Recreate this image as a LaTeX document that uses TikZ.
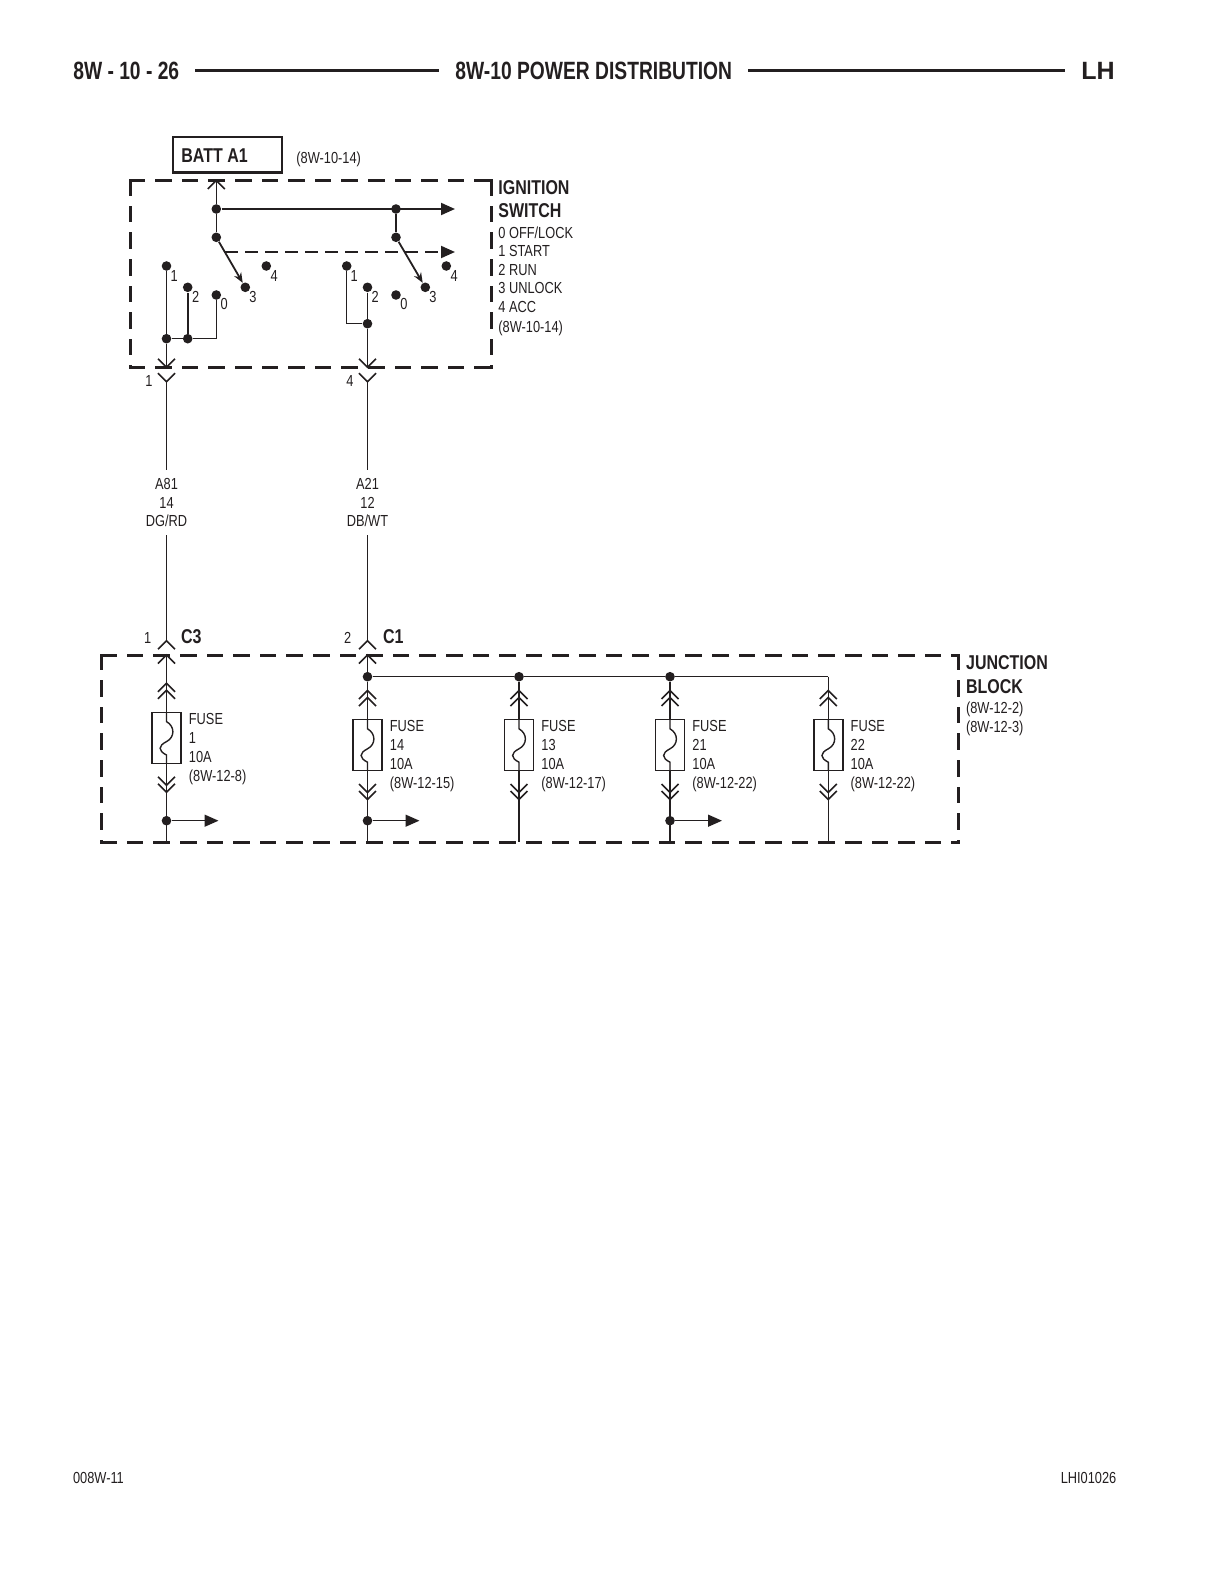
\documentclass[tikz,border=0pt]{standalone}
\usepackage{fontspec}
\setmainfont[FakeStretch=0.8]{Liberation Sans}
\newfontfamily\headfont[FakeStretch=0.77]{Liberation Sans}
\newfontfamily\sidefont{Liberation Sans}
\usetikzlibrary{arrows.meta}
\definecolor{inkc}{HTML}{231F20}
\tikzset{
    wire/.style={draw=inkc, line width=0.7pt},
    thickwire/.style={draw=inkc, line width=0.95pt},
    dashside/.style={draw=inkc, line width=1.5pt, line cap=rect, dash pattern=on 6.8pt off 6.5pt},
    areabox/.style={inner sep=0pt, outer sep=0pt, anchor=north west},
    pindot/.style={circle, fill=inkc, inner sep=0pt, minimum size=4.8pt},
    fusebox/.style={draw=inkc, line width=0.7pt, minimum width=14.5pt, minimum height=25.5pt, inner sep=0pt, outer sep=0pt},
    feed/.style={wire, -{Triangle[length=7pt,width=6pt]}},
    blade/.style={draw=inkc, line width=0.9pt, -{Stealth[length=5pt,width=4pt]}},
    smalltxt/.style={text=inkc, inner sep=0pt, anchor=west, font=\fontsize{8}{9.5}\selectfont, text height=5.7pt, text depth=0pt},
    boldtxt/.style={text=inkc, inner sep=0pt, anchor=west, font=\fontsize{10}{12}\bfseries\selectfont, text height=7.2pt, text depth=0pt},
    headtxt/.style={text=inkc, inner ysep=0pt, inner xsep=7.8pt, anchor=west, font=\headfont\fontsize{12.5}{15}\bfseries\selectfont, text height=9pt, text depth=0pt},
    chevup/.pic={\draw[draw=inkc, line width=0.8pt] (-8.5,8.5)--(0,0)--(8.5,8.5);},
    chevdown/.pic={\draw[draw=inkc, line width=0.8pt] (-8.5,-8.5)--(0,0)--(8.5,-8.5);},
}

\begin{document}
\begin{tikzpicture}[x=0.5pt, y=-0.5pt]
    \useasboundingbox (0,0) rectangle (1224,1584);
    % page head and foot
    \node[headtxt] (headl) at (57.3,70.5) {8W - 10 - 26};
    \node[headtxt, anchor=center] (headm) at (593.75,70.5) {8W-10 POWER DISTRIBUTION};
    \node[headtxt, anchor=east, font=\sidefont\fontsize{12.5}{15}\bfseries\selectfont] (headr) at (1130.6,70.5) {LH};
    \draw[draw=inkc, line width=1.1pt] (headl.east) -- (headm.west);
    \draw[draw=inkc, line width=1.1pt] (headm.east) -- (headr.west);
    \node[smalltxt] (footl) at (72.7,1477.3) {008W-11};
    \node[smalltxt, anchor=east] (footr) at (1116.7,1477.3) {LHI01026};

    % ignition switch
    \node[areabox, minimum width=180.5pt, minimum height=93.3pt] (ignbox) at (130,180.7) {};
    \draw[dashside] (ignbox.north west) -- (ignbox.north east);
    \draw[dashside] (ignbox.north east) -- (ignbox.south east);
    \draw[dashside] (ignbox.north west) -- (ignbox.south west);
    \draw[dashside] (ignbox.south west) -- (ignbox.south east);
    \node[draw=inkc, line width=1.3pt, minimum width=54.5pt, minimum height=17.8pt, inner sep=0pt] (batt) at (227.5,154.9) {};
    \node[boldtxt] (batttxt) at (181,155) {BATT A1};
    \node[smalltxt] (battref) at (296,158) {(8W-10-14)};
    \node[boldtxt] (ignone) at (498,187.3) {IGNITION};
    \node[boldtxt] (igntwo) at (498,210) {SWITCH};
    \foreach \n/\y/\txt in {a/232.7/{0 OFF/LOCK}, b/251/1 START, c/270/2 RUN, d/288/3 UNLOCK, e/306.7/4 ACC, f/326.7/{(8W-10-14)}}{
        \node[smalltxt] (ign\n) at (498,\y) {\txt};
    }
    \coordinate (battin) at (216.3,180.5);
    \node[pindot] (busa) at (216.3,209) {};
    \node[pindot] (busb) at (396,209) {};
    \node[pindot] (blda) at (216.3,237.3) {};
    \node[pindot] (bldb) at (396,237.3) {};
    \coordinate (busend) at (455,209);
    \coordinate (dashstart) at (225,252);
    \coordinate (dashend) at (455,252);
    \pic at (battin) {chevup};
    \draw[wire] (battin) -- (busa) -- (blda);
    \draw[wire] (busb) -- (bldb);
    \draw[thickwire, -{Triangle[length=7pt,width=6pt]}] (busa) -- (busend);
    \draw[thickwire, dash pattern=on 6.5pt off 3.5pt, -{Triangle[length=7pt,width=6pt,sep=0pt]}] (dashstart) -- (dashend);
    % contacts: name/x/y/text x/text y/text
    \foreach \n/\x/\y/\tx/\ty/\txt in {la/166.5/266/174.3/275.7/1, lb/187.7/287.3/195.7/297/2, lc/216.3/295/224.3/304/0, ld/245.3/287.3/253/297/3, le/266.3/266/274.3/275.7/4,
        ra/346.7/266/354.3/275.7/1, rb/367.5/287.3/375.3/297/2, rc/396/295/404/304/0, rd/425.3/287.3/433/297/3, re/446.3/266/454.3/275.7/4}{
        \node[pindot] (\n) at (\x,\y) {};
        \node[smalltxt, anchor=center] (\n txt) at (\tx,\ty) {\txt};
    }
    \draw[blade] (blda) -- (ld);
    \draw[blade] (bldb) -- (rd);
    \node[pindot] (jla) at (166.5,338.7) {};
    \node[pindot] (jlb) at (187.7,338.7) {};
    \node[pindot] (jra) at (367.5,323.7) {};
    \coordinate (outa) at (166.5,367.3);
    \coordinate (outb) at (367.5,367.3);
    \draw[wire] (la) -- (jla) -- (outa);
    \draw[thickwire] (lb) -- (jlb);
    \draw[wire] (jla) -- (jlb) -| (lc);
    \draw[wire] (ra) |- (jra);
    \draw[thickwire] (rb) -- (jra) -- (outb);
    \pic at (outa) {chevdown};
    \pic at (outb) {chevdown};

    % harness between switch and block
    \coordinate (conna) at (166.5,381.7);
    \coordinate (connb) at (367.5,381.7);
    \pic at (conna) {chevdown};
    \pic at (connb) {chevdown};
    \node[smalltxt, anchor=center] (connatxt) at (149,380.7) {1};
    \node[smalltxt, anchor=center] (connbtxt) at (350,380.7) {4};
    \node[align=center, text=inkc, inner sep=0pt, outer sep=0pt, minimum height=32.5pt, font=\fontsize{8}{9.2}\selectfont] (aeight) at (166.5,502.5) {A81\\14\\DG/RD};
    \node[align=center, text=inkc, inner sep=0pt, outer sep=0pt, minimum height=32.5pt, font=\fontsize{8}{9.2}\selectfont] (atwo) at (367.5,502.5) {A21\\12\\DB/WT};
    \coordinate (cthree) at (166.5,640.7);
    \coordinate (cone) at (367.5,640.7);
    \draw[wire] (conna) -- (aeight.north);
    \draw[wire] (aeight.south) -- (cthree);
    \draw[wire] (connb) -- (atwo.north);
    \draw[thickwire] (atwo.south) -- (cone);
    \pic at (cthree) {chevup};
    \pic at (cone) {chevup};
    \node[smalltxt, anchor=center] (cthreepin) at (147.7,638) {1};
    \node[smalltxt, anchor=center] (conepin) at (347.7,638) {2};
    \node[boldtxt] (cthreetxt) at (180.7,636.7) {C3};
    \node[boldtxt] (conetxt) at (382.7,636.7) {C1};

    % junction block
    \node[areabox, minimum width=428.2pt, minimum height=93.5pt] (jctbox) at (101.7,655) {};
    \draw[dashside] (jctbox.north west) -- (jctbox.north east);
    \draw[dashside] (jctbox.north east) -- (jctbox.south east);
    \draw[dashside] (jctbox.north west) -- (jctbox.south west);
    \draw[dashside] (jctbox.south west) -- (jctbox.south east);
    \node[boldtxt] (jctone) at (965.7,662.7) {JUNCTION};
    \node[boldtxt] (jcttwo) at (965.7,686) {BLOCK};
    \node[smalltxt] (jctrefa) at (965.7,707.7) {(8W-12-2)};
    \node[smalltxt] (jctrefb) at (965.7,726.7) {(8W-12-3)};
    \coordinate (top1) at (166.5,655);
    \coordinate (cin) at (367.5,655);
    \node[pindot] (top14) at (367.5,676.7) {};
    \node[pindot] (top13) at (519,676.7) {};
    \node[pindot] (top21) at (670,676.7) {};
    \coordinate (top22) at (828.3,676.7);
    \pic at (top1) {chevup};
    \pic at (cin) {chevup};
    \draw[thickwire] (cin) -- (top14);
    \draw[wire] (top14) -- (top13) -- (top21) -- (top22);
    \foreach \id/\x/\y/\ws/\ref in {1/166.5/737.8/wire/{(8W-12-8)}, 14/367.5/745/thickwire/{(8W-12-15)}, 13/519/745/thickwire/{(8W-12-17)}, 21/670/745/thickwire/{(8W-12-22)}, 22/828.3/745/wire/{(8W-12-22)}}{
        \node[fusebox] (fuse\id) at (\x,\y) {};
        \coordinate (end\id) at (\x,842);
        \draw[wire] (top\id) -- (fuse\id.north);
        \draw[wire] (fuse\id.north) -- ++(0,9.3) .. controls +(8.5,4.7) and +(8.5,-4.3) .. ++(0,20) .. controls +(-8.5,4.3) and +(-8.5,-4.3) .. ++(0,13.4) -- (fuse\id.south);
        \draw[\ws] (fuse\id.south) -- (end\id);
        \pic at (\x,\y-47.5) {chevup};
        \pic at (\x,\y-54.5) {chevup};
        \pic at (\x,\y+47.5) {chevdown};
        \pic at (\x,\y+54.5) {chevdown};
        \node[text=inkc, inner sep=0pt, align=left, anchor=north west, font=\fontsize{8}{9.5}\selectfont] (fuse\id txt) at (\x+22,\y-25) {FUSE\\\id\\10A\\\ref};
    }
    \foreach \id/\x in {1/166.5, 14/367.5, 21/670}{
        \node[pindot] (tap\id) at (\x,820.7) {};
        \coordinate (tapend\id) at (\x+52,820.7);
        \draw[feed] (tap\id) -- (tapend\id);
    }
\end{tikzpicture}
\end{document}
